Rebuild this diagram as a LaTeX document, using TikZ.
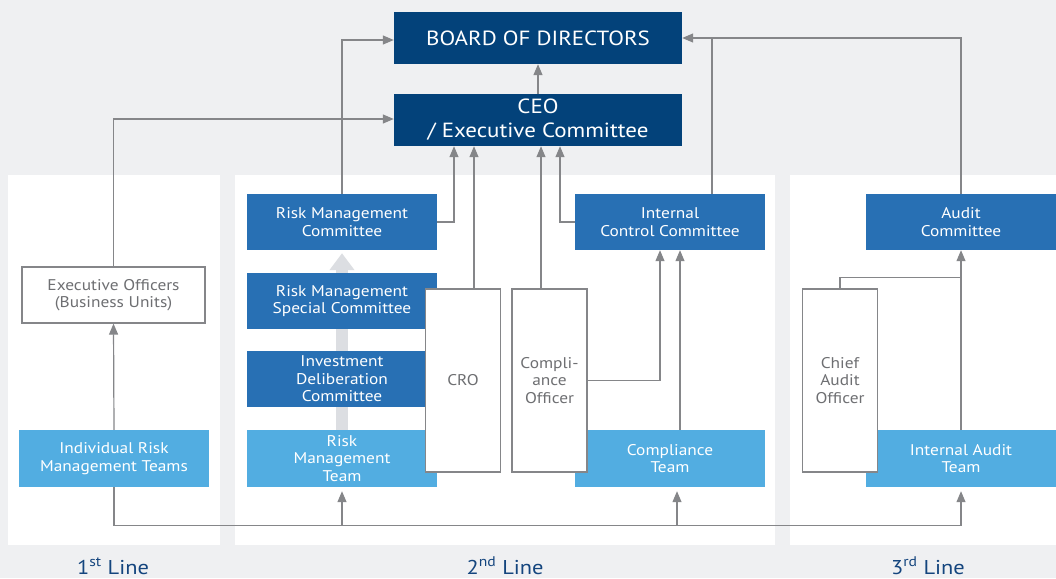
\documentclass[tikz,border=0pt]{standalone}
\usepackage{fontspec}
\setmainfont{PT Sans}[FakeStretch=1.12]
\usetikzlibrary{
    positioning,
    calc,
    arrows.meta
}
\definecolor{PageGray}{HTML}{EFF0F2}
\definecolor{NavyBlue}{HTML}{03427A}
\definecolor{MidBlue}{HTML}{2870B4}
\definecolor{SkyBlue}{HTML}{52ADE1}
\definecolor{LinkGray}{HTML}{858689}
\definecolor{OfficerGray}{HTML}{6E6F72}
\definecolor{LineNavy}{HTML}{14457E}
\definecolor{FlowGray}{HTML}{DCDEE2}

\tikzset{
    unit/.style={inner sep=2pt, align=center, font=\fontsize{15.5}{17.5}\selectfont},
    topbox/.style={unit, fill=NavyBlue, text=white, minimum width=288pt, minimum height=52pt,
        font=\fontsize{20.5}{24}\selectfont},
    commbox/.style={unit, fill=MidBlue, text=white, minimum width=190pt, minimum height=56pt},
    teambox/.style={unit, fill=SkyBlue, text=white, minimum width=190pt, minimum height=57pt},
    officerbox/.style={unit, fill=white, draw=LinkGray, line width=1.2pt, text=OfficerGray,
        minimum width=75pt, minimum height=183pt},
    link/.style={draw=LinkGray, line width=1.2pt},
    tip/.style={-{Triangle[length=11pt,width=9pt]}},
    linelabel/.style={anchor=base, inner sep=0pt, text=LineNavy, font=\fontsize{20}{24}\selectfont}
}

\begin{document}
\begin{tikzpicture}[x=1pt, y=-1pt]
    % page and the three line panels
    \fill[PageGray] (0,0) rectangle (1056,578);
    \useasboundingbox (0,0) rectangle (1056,578);
    \fill[white] (8,175) rectangle (220,545);
    \fill[white] (235,175) rectangle (775,545);
    \fill[white] (790,175) rectangle (1056,545);

    % top of the organisation
    \node[topbox] (board) at (538,38) {BOARD OF DIRECTORS};
    \node[topbox] (ceo) at (538,120) {CEO\\/ Executive Committee};

    % committees
    \node[commbox] (rmc) at (342,222) {Risk Management\\Committee};
    \node[commbox] (icc) at (670,222) {Internal\\Control Committee};
    \node[commbox] (ac) at (961,222) {Audit\\Committee};

    % wide flow arrow behind the risk committees
    \draw[FlowGray, line width=12pt, -{Triangle[length=17pt,width=24pt]}]
        (342,430) -- ([yshift=-3pt]rmc.south);

    \node[commbox] (rmsc) at (342,301) {Risk Management\\Special Committee};
    \node[commbox] (idc) at (342,379) {Investment\\Deliberation\\Committee};

    % teams
    \node[teambox] (irmt) at (114,458.5) {Individual Risk\\Management Teams};
    \node[teambox] (rmt) at (342,458.5) {Risk\\Management\\Team};
    \node[teambox] (ct) at (670,458.5) {Compliance\\Team};
    \node[teambox] (iat) at (961,458.5) {Internal Audit\\Team};

    % officers
    \node[officerbox, minimum width=183pt, minimum height=56pt] (eo) at (113.5,295)
        {Executive Officers\\(Business Units)};
    \node[officerbox] (cro) at (463,380.5) {CRO};
    \node[officerbox] (co) at (549.5,380.5) {Compli-\\ance\\Officer};
    \node[officerbox] (cao) at (840,380.5) {Chief\\Audit\\Officer};

    % reporting lines
    \draw[link, tip] (ceo) -- (board);
    \draw[link, tip] (eo.north) |- ([yshift=1pt]ceo.west);
    \draw[link, tip] (rmc.north) |- ([yshift=-2pt]board.west);
    \draw[link, tip] (rmc.east) -| ([xshift=-84pt]ceo.south);
    \draw[link, tip] ([xshift=11pt]cro.north) -- ([xshift=11pt]cro.north |- ceo.south);
    \draw[link, tip] ([xshift=-8.5pt]co.north) -- ([xshift=-8.5pt]co.north |- ceo.south);
    \draw[link, tip] (icc.west) -| ([xshift=22pt]ceo.south);
    \draw[link, tip] (ac.north) |- (board.east);
    \draw[link] ([xshift=42pt]icc.north) -- ([xshift=42pt]icc.north |- board.east);
    \draw[link, tip] (co.east) -| ([xshift=-10pt]icc.south);
    \draw[link, tip] ([xshift=10pt]ct.north) -- ([xshift=10pt]icc.south);
    \draw[link] (cao.north) |- ([yshift=-27pt]ac.south);
    \draw[link, tip] (iat.north) -- (ac.south);
    \draw[link, tip] (irmt.north) -- (eo.south);

    % common bottom line feeding the teams
    \coordinate (busleft) at ([yshift=-38pt]irmt.south);
    \draw[link, tip, shorten >=4pt] (irmt.south) -- (busleft) -| (iat.south);
    \draw[link, tip, shorten >=4pt] (rmt.south |- busleft) -- (rmt.south);
    \draw[link, tip, shorten >=4pt] ([xshift=7pt]ct.south |- busleft) -- ([xshift=7pt]ct.south);

    % line captions
    \node[linelabel] (first) at (113,574) {1\textsuperscript{st} Line};
    \node[linelabel] (second) at (505,574) {2\textsuperscript{nd} Line};
    \node[linelabel] (third) at (928,574) {3\textsuperscript{rd} Line};
\end{tikzpicture}
\end{document}
